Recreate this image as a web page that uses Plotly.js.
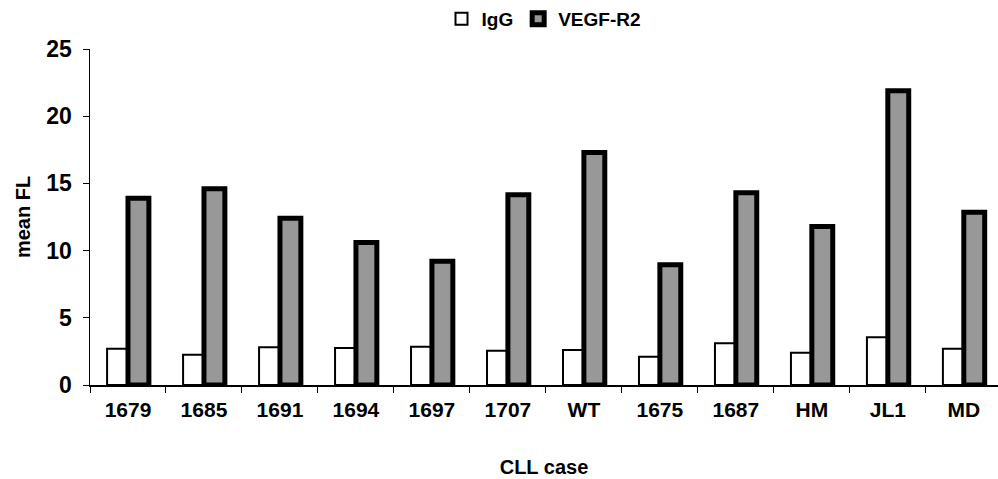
<!DOCTYPE html>
<html>
<head>
<meta charset="utf-8">
<script src="https://cdn.plot.ly/plotly-3.0.1.min.js"></script>
<style>html,body{margin:0;padding:0;background:#fff}#chart{width:998px;height:479px}</style>
</head>
<body>
<div id="chart"></div>
<script>
const cases = ["1679","1685","1691","1694","1697","1707","WT","1675","1687","HM","JL1","MD"];
const igg = [2.7, 2.25, 2.8, 2.75, 2.85, 2.55, 2.6, 2.1, 3.1, 2.4, 3.55, 2.7];
const vegfr2 = [13.9, 14.6, 12.4, 10.6, 9.2, 14.15, 17.3, 8.95, 14.3, 11.8, 21.9, 12.85];
const yTicks = [0, 5, 10, 15, 20, 25];

const font = "Liberation Sans, Arial, sans-serif";

const traces = [
  {
    type: "bar", name: "IgG", x: cases, y: igg,
    marker: {color: "#ffffff", line: {color: "#000000", width: 2}}
  },
  {
    type: "bar", name: "VEGF-R2", x: cases, y: vegfr2,
    marker: {color: "#989898", line: {color: "#000000", width: 5}}
  }
];

const layout = {
  width: 998, height: 479,
  margin: {l: 90, r: 0, t: 35, b: 94},
  paper_bgcolor: "#fff", plot_bgcolor: "#fff",
  barmode: "group", bargap: 0.45, bargroupgap: 0,
  font: {family: font, color: "#000", size: 20},
  showlegend: true,
  legend: {
    orientation: "h", x: 0.5, xanchor: "center", y: 1.09, yanchor: "middle",
    font: {family: font, size: 19, color: "#000", weight: "bold"}, itemwidth: 30, tracegroupgap: 0,
    bgcolor: "rgba(0,0,0,0)"
  },
  xaxis: {
    type: "category", range: [-0.5, 11.45],
    showline: true, linecolor: "#000", linewidth: 1.5,
    ticks: "outside", tickson: "boundaries", ticklen: 6, tickcolor: "#000",
    ticklabelstandoff: 5,
    tickfont: {family: font, size: 21, color: "#000", weight: "bold"},
    showgrid: false, zeroline: false,
    title: {text: "CLL case", font: {family: font, size: 20, color: "#000", weight: "bold"}, standoff: 40}
  },
  yaxis: {
    range: [0, 25], tickvals: yTicks, ticktext: yTicks.map(String),
    showline: true, linecolor: "#000", linewidth: 1.5,
    ticks: "outside", ticklen: 6, tickcolor: "#000",
    ticklabelstandoff: 6,
    tickfont: {family: font, size: 23, color: "#000", weight: "bold"},
    showgrid: false, zeroline: false,
    title: {text: "mean FL", font: {family: font, size: 20, color: "#000", weight: "bold"}, standoff: 10}
  }
};

Plotly.newPlot("chart", traces, layout, {staticPlot: true, displayModeBar: false});
</script>
</body>
</html>
